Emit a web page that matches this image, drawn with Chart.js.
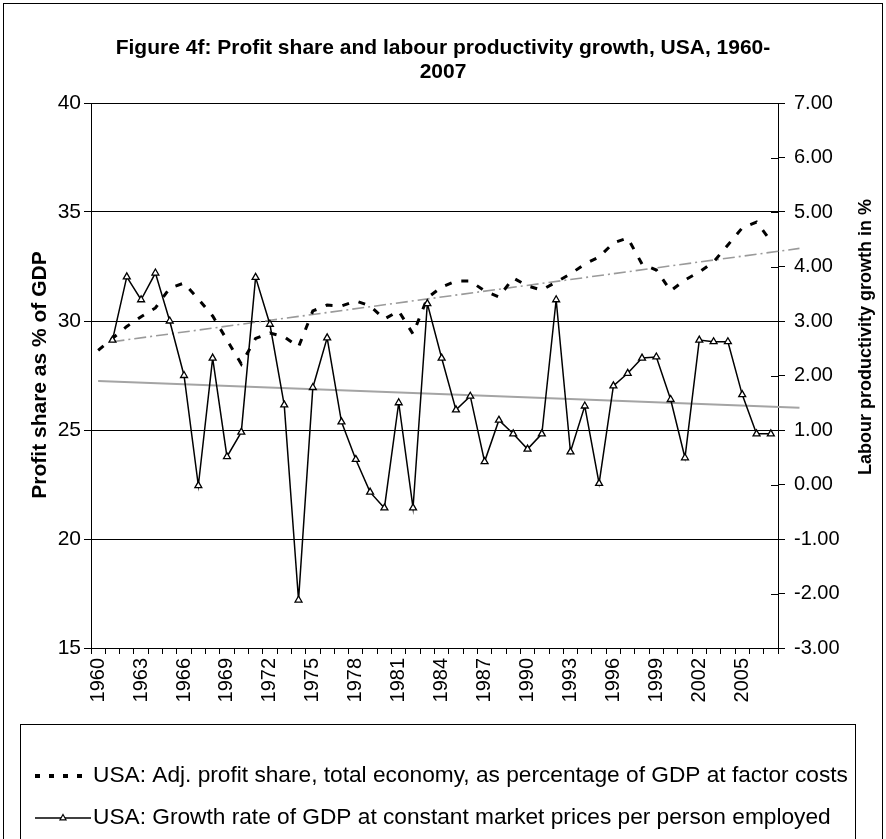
<!DOCTYPE html>
<html>
<head>
<meta charset="utf-8">
<script src="https://cdn.jsdelivr.net/npm/chart.js@4.4.0/dist/chart.umd.min.js"></script>
<style>
  html, body { margin: 0; padding: 0; background: #fff; }
  #wrap { width: 886px; height: 839px; }
</style>
</head>
<body>
<div id="wrap"><canvas id="chart" width="886" height="839"></canvas></div>
<script>
// data
const years = [1960, 1961, 1962, 1963, 1964, 1965, 1966, 1967, 1968, 1969,
  1970, 1971, 1972, 1973, 1974, 1975, 1976, 1977, 1978, 1979,
  1980, 1981, 1982, 1983, 1984, 1985, 1986, 1987, 1988, 1989,
  1990, 1991, 1992, 1993, 1994, 1995, 1996, 1997, 1998, 1999,
  2000, 2001, 2002, 2003, 2004, 2005, 2006, 2007];

// left axis: profit share as % of GDP
const profitShare = [28.65, 29.2, 29.75, 30.2, 30.6, 31.51, 31.74, 31.01, 30.23, 29.13,
  28.03, 29.2, 29.45, 29.27, 28.81, 30.46, 30.73, 30.69, 30.92, 30.69,
  30.09, 30.46, 29.4, 31.06, 31.56, 31.83, 31.83, 31.38, 31.1, 31.97,
  31.61, 31.42, 31.79, 32.16, 32.61, 32.94, 33.58, 33.81, 32.61, 32.34,
  31.38, 31.88, 32.25, 32.71, 33.49, 34.27, 34.54, 33.67];

// right axis: labour productivity growth in %
const productivityGrowth = [null, 2.65, 3.81, 3.39, 3.88, 3.0, 2.0, -0.02, 2.32, 0.51,
  0.96, 3.8, 2.94, 1.46, -2.12, 1.78, 2.69, 1.15, 0.46, -0.14,
  -0.43, 1.5, -0.43, 3.32, 2.32, 1.37, 1.62, 0.42, 1.18, 0.93,
  0.65, 0.93, 3.39, 0.6, 1.44, 0.02, 1.81, 2.04, 2.32, 2.34,
  1.56, 0.49, 2.65, 2.62, 2.62, 1.65, 0.93, 0.93];

// linear trend lines (end points as drawn)
const profitTrendYears = [1961, 2009];
const profitTrend = [29.05, 33.33];
const growthTrendYears = [1960, 2009];
const growthTrend = [1.9, 1.41];

const seriesNames = [
  'USA: Adj. profit share, total economy, as percentage of GDP at factor costs',
  'USA: Growth rate of GDP at constant market prices per person employed'
];

const FONT = "'Liberation Sans', Arial, sans-serif";

function toPoints(xs, ys) {
  return xs.map((x, i) => ({ x: x, y: ys[i] }));
}

// title, axis titles, right inner ticks, legend box and outer frame
const decor = {
  id: 'decor',
  afterDraw(chart) {
    const ctx = chart.ctx;
    ctx.save();
    ctx.strokeStyle = '#000';
    ctx.lineWidth = 1;
    ctx.strokeRect(3.5, 3.5, 879, 850);

    ctx.fillStyle = '#000';
    ctx.textAlign = 'center';
    ctx.textBaseline = 'middle';
    ctx.font = 'bold 21px ' + FONT;
    ctx.fillText('Figure 4f: Profit share and labour productivity growth, USA, 1960-', 443, 48);
    ctx.fillText('2007', 443, 72);

    ctx.font = 'bold 21px ' + FONT;
    ctx.save();
    ctx.translate(40, 375);
    ctx.rotate(-Math.PI / 2);
    ctx.fillText('Profit share as % of GDP', 0, 0);
    ctx.restore();
    ctx.font = 'bold 18px ' + FONT;
    ctx.save();
    ctx.translate(866, 337);
    ctx.rotate(-Math.PI / 2);
    ctx.fillText('Labour productivity growth in %', 0, 0);
    ctx.restore();

    // inner half of right axis tick marks
    const y2 = chart.scales.y2;
    ctx.beginPath();
    y2.ticks.forEach(t => {
      const py = Math.round(y2.getPixelForValue(t.value)) + 0.5;
      ctx.moveTo(y2.left - 7, py);
      ctx.lineTo(y2.left, py);
    });
    ctx.stroke();

    // legend
    ctx.strokeRect(20.5, 724.5, 835, 130);
    const ds = chart.data.datasets;
    ctx.font = '22.7px ' + FONT;
    ctx.textAlign = 'left';
    [776, 818].forEach((ly, i) => {
      const d = ds[i];
      ctx.save();
      ctx.strokeStyle = d.borderColor;
      ctx.lineWidth = i === 0 ? 4 : d.borderWidth;
      ctx.setLineDash(i === 0 ? [5, 9] : []);
      ctx.beginPath();
      ctx.moveTo(35, ly);
      ctx.lineTo(91, ly);
      ctx.stroke();
      ctx.restore();
      if (d.pointStyle === 'triangle') {
        ctx.save();
        ctx.fillStyle = '#fff';
        ctx.lineWidth = 1.2;
        ctx.beginPath();
        ctx.moveTo(63, ly - 3.5);
        ctx.lineTo(66, ly + 1.8);
        ctx.lineTo(60, ly + 1.8);
        ctx.closePath();
        ctx.fill();
        ctx.stroke();
        ctx.restore();
      }
      ctx.fillStyle = '#000';
      ctx.fillText(seriesNames[i], 93, ly);
    });
    ctx.restore();
  }
};

const ctx = document.getElementById('chart').getContext('2d');
const chart = new Chart(ctx, {
  type: 'line',
  data: {
    labels: years,
    datasets: [
      {
        label: seriesNames[0],
        data: profitShare,
        yAxisID: 'y',
        borderColor: '#000',
        borderWidth: 3,
        borderDash: [7, 10],
        pointRadius: 0,
        tension: 0,
        order: 1
      },
      {
        label: seriesNames[1],
        data: productivityGrowth,
        yAxisID: 'y2',
        borderColor: '#000',
        borderWidth: 1.5,
        pointStyle: 'triangle',
        pointRadius: 4,
        pointBackgroundColor: '#fff',
        pointBorderColor: '#000',
        pointBorderWidth: 1.3,
        tension: 0,
        order: 0
      },
      {
        label: 'profit trend',
        data: toPoints(profitTrendYears, profitTrend),
        xAxisID: 'xt',
        yAxisID: 'y',
        borderColor: '#9a9a9a',
        borderWidth: 1.6,
        borderDash: [12, 4, 2, 4],
        pointRadius: 0,
        clip: false,
        order: 2
      },
      {
        label: 'growth trend',
        data: toPoints(growthTrendYears, growthTrend),
        xAxisID: 'xt',
        yAxisID: 'y2',
        borderColor: '#a4a4a4',
        borderWidth: 2,
        pointRadius: 0,
        clip: false,
        order: 3
      }
    ]
  },
  options: {
    responsive: false,
    animation: false,
    devicePixelRatio: 1,
    layout: { padding: { top: 103, left: 0, right: 0, bottom: 0 } },
    plugins: {
      legend: { display: false },
      title: { display: false },
      tooltip: { enabled: false }
    },
    scales: {
      x: {
        type: 'category',
        offset: true,
        grid: { offset: true, drawOnChartArea: false, color: '#000', tickLength: 6 },
        border: { color: '#000', width: 1 },
        ticks: {
          autoSkip: false,
          maxRotation: 90,
          minRotation: 90,
          padding: 4,
          color: '#000',
          font: { family: FONT, size: 20 },
          callback: (v, i) => (i % 3 === 0 ? years[i] : '')
        },
        afterFit: s => { s.height = 191; }
      },
      xt: {
        type: 'linear',
        display: false,
        min: 1959.5,
        max: 2007.5
      },
      y: {
        position: 'left',
        min: 15,
        max: 40,
        grid: { color: '#000', tickLength: 7 },
        border: { color: '#000', width: 1 },
        ticks: {
          stepSize: 5,
          padding: 3,
          color: '#000',
          font: { family: FONT, size: 21 }
        },
        afterFit: s => { s.width = 91; }
      },
      y2: {
        position: 'right',
        min: -3,
        max: 7,
        grid: { drawOnChartArea: false, color: '#000', tickLength: 7 },
        border: { color: '#000', width: 1 },
        ticks: {
          stepSize: 1,
          padding: 9,
          color: '#000',
          font: { family: FONT, size: 20 },
          callback: v => v.toFixed(2)
        },
        afterFit: s => { s.width = 108; }
      }
    }
  },
  plugins: [decor]
});
</script>
</body>
</html>
